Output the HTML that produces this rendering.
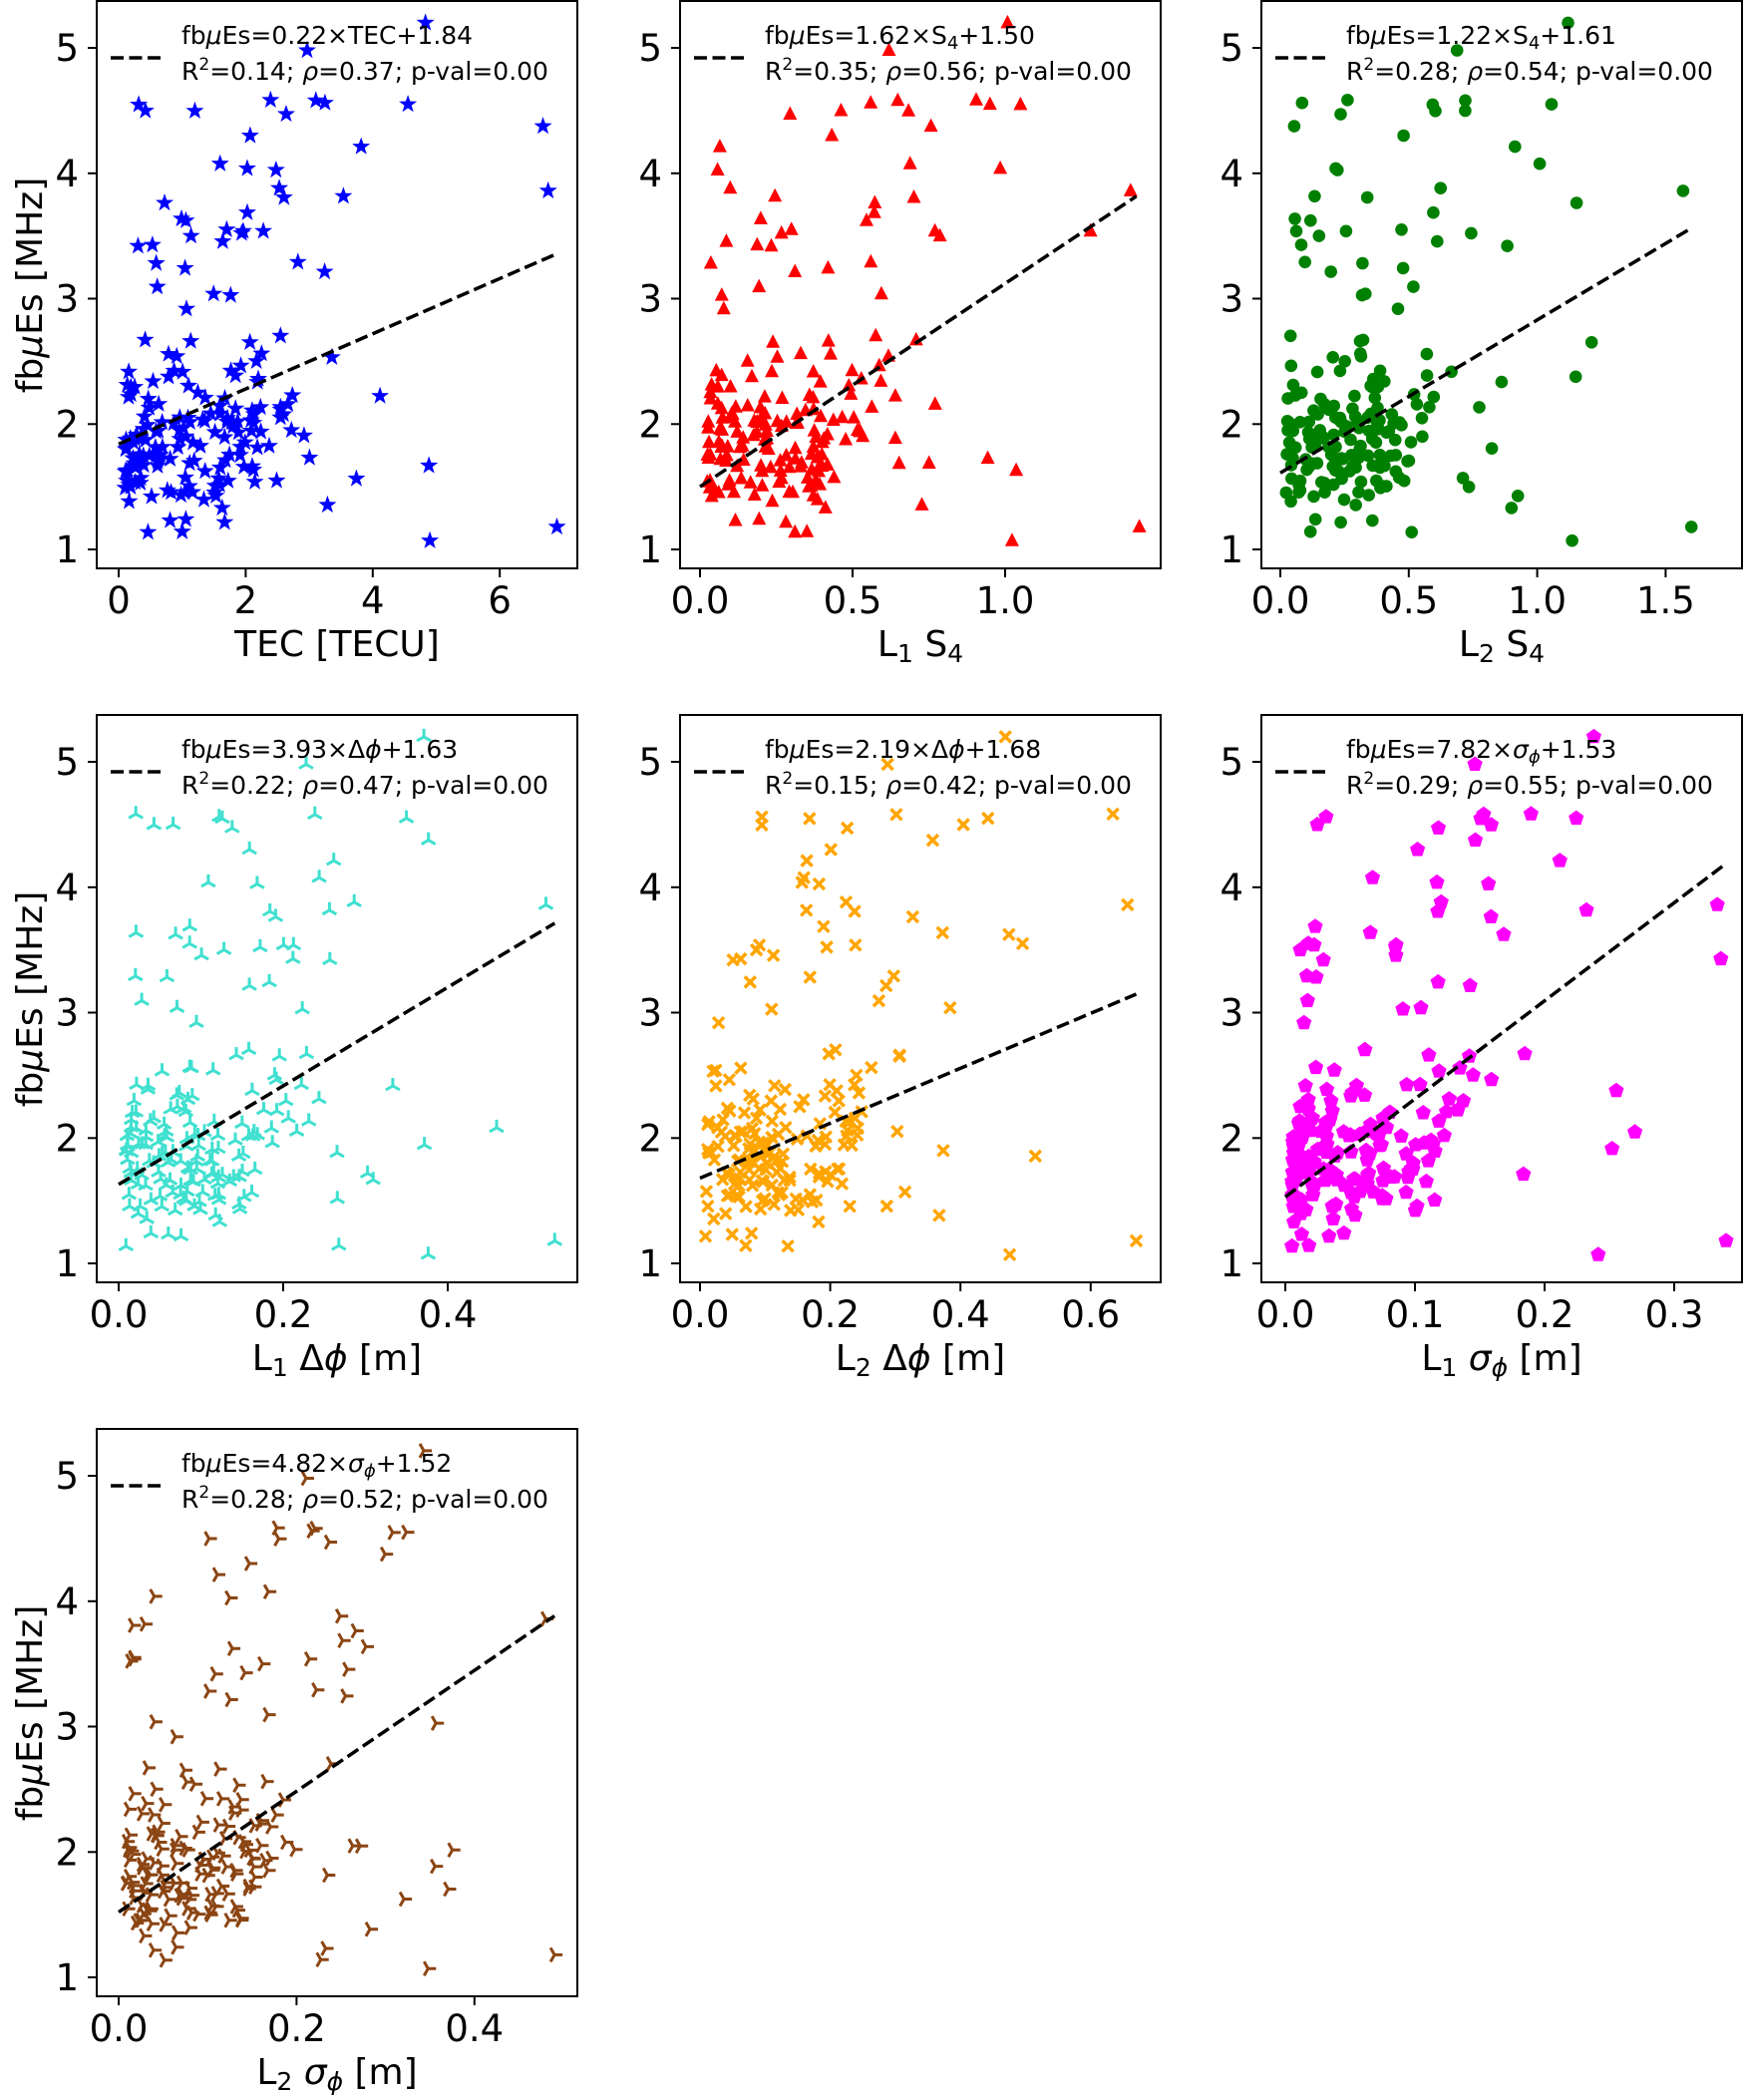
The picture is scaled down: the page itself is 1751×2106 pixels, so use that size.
<!DOCTYPE html>
<html><head><meta charset="utf-8">
<style>html,body{margin:0;padding:0;background:#fff}svg{display:block}
text{font-family:"DejaVu Sans","Liberation Sans",sans-serif;fill:#000}</style></head>
<body>
<div id="box"></div>
<script>
(function(){
var seed=12345;
function R(){seed=(seed*16807)%2147483647;return seed/2147483647;}
var W=482,H=569;
var P=[
 {L:97,T:1,x0:119,k:63.7,col:"#0000ff",m:"star",ticks:[0,2,4,6],fmt:0,xs:6.9,a:0.22,b:1.84,xe:6.9,
  l1:'fb<tspan font-style="italic">μ</tspan>Es=0.22×TEC+1.84',r:"0.14",rho:"0.37",xl:'TEC [TECU]'},
 {L:682,T:1,x0:702,k:306,col:"#ff0000",m:"tri",ticks:[0,0.5,1.0],fmt:1,xs:1.44,a:1.62,b:1.50,xe:1.43,
  l1:'fb<tspan font-style="italic">μ</tspan>Es=1.62×S<tspan font-size="18" dy="5">4</tspan><tspan dy="-5">+1.50</tspan>',r:"0.35",rho:"0.56",xl:'L<tspan font-size="25" dy="6">1</tspan><tspan dy="-6"> S</tspan><tspan font-size="25" dy="6">4</tspan>'},
 {L:1265,T:1,x0:1284,k:257.6,col:"#008000",m:"circ",ticks:[0,0.5,1.0,1.5],fmt:1,xs:1.6,a:1.22,b:1.61,xe:1.6,
  l1:'fb<tspan font-style="italic">μ</tspan>Es=1.22×S<tspan font-size="18" dy="5">4</tspan><tspan dy="-5">+1.61</tspan>',r:"0.28",rho:"0.54",xl:'L<tspan font-size="25" dy="6">2</tspan><tspan dy="-6"> S</tspan><tspan font-size="25" dy="6">4</tspan>'},
 {L:97,T:717,x0:119,k:825,col:"#40e0d0",m:"triup",ticks:[0,0.2,0.4],fmt:1,xs:0.53,a:3.93,b:1.63,xe:0.53,
  l1:'fb<tspan font-style="italic">μ</tspan>Es=3.93×Δ<tspan font-style="italic">ϕ</tspan>+1.63',r:"0.22",rho:"0.47",xl:'L<tspan font-size="25" dy="6">1</tspan><tspan dy="-6"> Δ</tspan><tspan font-style="italic">ϕ</tspan> [m]'},
 {L:682,T:717,x0:702,k:653,col:"#ffa500",m:"x",ticks:[0,0.2,0.4,0.6],fmt:1,xs:0.67,a:2.19,b:1.68,xe:0.67,
  l1:'fb<tspan font-style="italic">μ</tspan>Es=2.19×Δ<tspan font-style="italic">ϕ</tspan>+1.68',r:"0.15",rho:"0.42",xl:'L<tspan font-size="25" dy="6">2</tspan><tspan dy="-6"> Δ</tspan><tspan font-style="italic">ϕ</tspan> [m]'},
 {L:1265,T:717,x0:1289,k:1300,col:"#ff00ff",m:"pent",ticks:[0,0.1,0.2,0.3],fmt:1,xs:0.34,a:7.82,b:1.53,xe:0.34,
  l1:'fb<tspan font-style="italic">μ</tspan>Es=7.82×<tspan font-style="italic">σ</tspan><tspan font-size="18" dy="5" font-style="italic">ϕ</tspan><tspan dy="-5">+1.53</tspan>',r:"0.29",rho:"0.55",xl:'L<tspan font-size="25" dy="6">1</tspan><tspan dy="-6"> </tspan><tspan font-style="italic">σ</tspan><tspan font-size="25" dy="6" font-style="italic">ϕ</tspan><tspan dy="-6"> [m]</tspan>'},
 {L:97,T:1433,x0:119,k:892,col:"#8b4513",m:"triright",ticks:[0,0.2,0.4],fmt:1,xs:0.49,a:4.82,b:1.52,xe:0.49,
  l1:'fb<tspan font-style="italic">μ</tspan>Es=4.82×<tspan font-style="italic">σ</tspan><tspan font-size="18" dy="5" font-style="italic">ϕ</tspan><tspan dy="-5">+1.52</tspan>',r:"0.28",rho:"0.52",xl:'L<tspan font-size="25" dy="6">2</tspan><tspan dy="-6"> </tspan><tspan font-style="italic">σ</tspan><tspan font-size="25" dy="6" font-style="italic">ϕ</tspan><tspan dy="-6"> [m]</tspan>'}
];
var Y=[],i,j;
for(i=0;i<200;i++){var u=R();var y;if(u<0.84){y=1.05+1.65*(R()+R())/2;}else{y=2.6+2.0*R();}Y.push(y);}
Y[0]=5.2;Y[1]=4.98;Y[2]=4.58;Y[3]=4.55;Y[4]=4.3;Y[5]=1.07;Y[6]=1.18;Y[7]=3.86;
var fx=[0.7,0.43,0.45,0.66,0.3,0.71,1.0,0.98];
function f(n){return (Math.round(n*10)/10).toString();}
function mk(m,cx,cy,c){
 var s="",pts,a,r;
 if(m=="star"){pts=[];for(j=0;j<10;j++){r=(j%2)?3.8:9.5;a=-Math.PI/2+j*Math.PI/5;pts.push(f(cx+r*Math.cos(a))+","+f(cy+r*Math.sin(a)));}s='<polygon points="'+pts.join(" ")+'" fill="'+c+'"/>';}
 else if(m=="tri"){s='<polygon points="'+f(cx)+','+f(cy-8)+' '+f(cx+7)+','+f(cy+5.5)+' '+f(cx-7)+','+f(cy+5.5)+'" fill="'+c+'"/>';}
 else if(m=="circ"){s='<circle cx="'+f(cx)+'" cy="'+f(cy)+'" r="6.3" fill="'+c+'"/>';}
 else if(m=="pent"){pts=[];for(j=0;j<5;j++){a=-Math.PI/2+j*2*Math.PI/5;pts.push(f(cx+8*Math.cos(a))+","+f(cy+8*Math.sin(a)));}s='<polygon points="'+pts.join(" ")+'" fill="'+c+'"/>';}
 else if(m=="x"){s='<path d="M'+f(cx-5.5)+' '+f(cy-5.5)+'L'+f(cx+5.5)+' '+f(cy+5.5)+'M'+f(cx-5.5)+' '+f(cy+5.5)+'L'+f(cx+5.5)+' '+f(cy-5.5)+'" stroke="'+c+'" stroke-width="3.5"/>';}
 else if(m=="triup"){s='<path d="M'+f(cx)+' '+f(cy)+'V'+f(cy-8)+'M'+f(cx)+' '+f(cy)+'l7 4M'+f(cx)+' '+f(cy)+'l-7 4" stroke="'+c+'" stroke-width="3" fill="none"/>';}
 else if(m=="triright"){s='<path d="M'+f(cx)+' '+f(cy)+'H'+f(cx+8)+'M'+f(cx)+' '+f(cy)+'l-4 -7M'+f(cx)+' '+f(cy)+'l-4 7" stroke="'+c+'" stroke-width="3" fill="none"/>';}
 return s;}
var out="";
for(var pi=0;pi<P.length;pi++){
 var p=P[pi];
 var L=p.L,T=p.T,B=T+H;
 var X=function(v){return p.x0+v*p.k;};
 var Yp=function(v){return T+550-(v-1)*125.75;};
 for(i=0;i<Y.length;i++){
  var yv=Y[i];
  var x=p.xs*(0.02+0.42*Math.pow(R(),1.4))*(0.55+0.3*(yv-1))+(R()<0.1?p.xs*0.55*R():0);
  if(i<8){x=p.xs*fx[i];}
  if(x>p.xs)x=p.xs*(0.5+0.5*R());
  out+=mk(p.m,X(x),Yp(yv),p.col);
 }
 out+='<line x1="'+f(X(0))+'" y1="'+f(Yp(p.b))+'" x2="'+f(X(p.xe))+'" y2="'+f(Yp(p.a*p.xe+p.b))+'" stroke="#000" stroke-width="3.5" stroke-dasharray="13,5.5"/>';
 out+='<rect x="'+L+'" y="'+T+'" width="'+W+'" height="'+H+'" fill="none" stroke="#000" stroke-width="2"/>';
 for(var v=1;v<=5;v++){var yy=f(Yp(v));out+='<line x1="'+(L-9)+'" y1="'+yy+'" x2="'+L+'" y2="'+yy+'" stroke="#000" stroke-width="2"/>';
  out+='<text x="'+(L-18)+'" y="'+f(Yp(v)+13)+'" font-size="37" text-anchor="end">'+v+'</text>';}
 for(j=0;j<p.ticks.length;j++){var t=p.ticks[j];var xx=f(X(t));out+='<line x1="'+xx+'" y1="'+B+'" x2="'+xx+'" y2="'+(B+9)+'" stroke="#000" stroke-width="2"/>';
  out+='<text x="'+xx+'" y="'+(B+45)+'" font-size="37" text-anchor="middle">'+(p.fmt?t.toFixed(1):t)+'</text>';}
 out+='<text x="'+(L+W/2)+'" y="'+(B+88)+'" font-size="36" text-anchor="middle">'+p.xl+'</text>';
 if(L<100){out+='<text transform="translate(42,'+(T+285)+') rotate(-90)" font-size="36" text-anchor="middle">fb<tspan font-style="italic">μ</tspan>Es [MHz]</text>';}
 out+='<line x1="'+(L+14)+'" y1="'+(T+57)+'" x2="'+(L+68)+'" y2="'+(T+57)+'" stroke="#000" stroke-width="3.5" stroke-dasharray="13,5.5"/>';
 out+='<text x="'+(L+85)+'" y="'+(T+43)+'" font-size="25">'+p.l1+'</text>';
 out+='<text x="'+(L+85)+'" y="'+(T+79)+'" font-size="25">R<tspan font-size="17" dy="-10">2</tspan><tspan dy="10">=</tspan>'+p.r+'; <tspan font-style="italic">ρ</tspan>='+p.rho+'; p-val=0.00</text>';
}
document.getElementById("box").innerHTML='<svg xmlns="http://www.w3.org/2000/svg" width="1751" height="2106" viewBox="0 0 1751 2106">'+out+'</svg>';
})();
</script>
</body></html>
